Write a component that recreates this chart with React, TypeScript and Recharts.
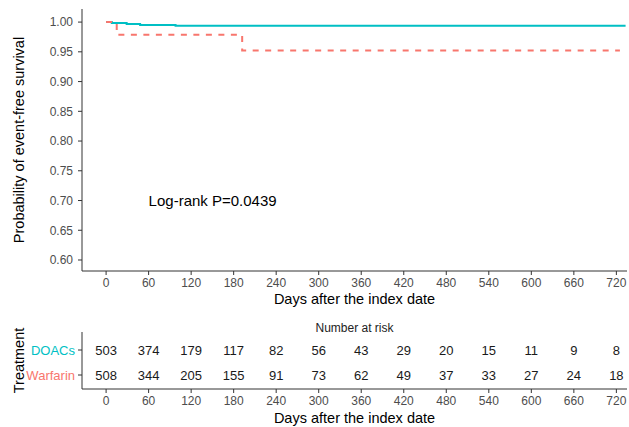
import React from "react";
import {
  LineChart,
  Line,
  XAxis,
  YAxis,
  ReferenceDot,
  Label,
  ScatterChart,
  Scatter,
} from "recharts";

// Kaplan-Meier step data (days, survival)
const doacTimes = [0, 8, 29, 48, 98, 733];
const doacSurv = [1.0, 0.9983, 0.9966, 0.9949, 0.9938, 0.9938];
const warfTimes = [0, 15, 192, 725];
const warfSurv = [1.0, 0.9786, 0.9522, 0.9522];

const dayTicks = [0, 60, 120, 180, 240, 300, 360, 420, 480, 540, 600, 660, 720];
const survTicks = [0.6, 0.65, 0.7, 0.75, 0.8, 0.85, 0.9, 0.95, 1.0];

const groups = ["DOACs", "Warfarin"];
const groupColors = ["#00BFC4", "#F8766D"];
const riskDOACs = [503, 374, 179, 117, 82, 56, 43, 29, 20, 15, 11, 9, 8];
const riskWarfarin = [508, 344, 205, 155, 91, 73, 62, 49, 37, 33, 27, 24, 18];

const pValueText = "Log-rank P=0.0439";
const pValueAt = { t: 60, s: 0.7 };

const doacData = doacTimes.map((t, i) => ({ t, s: doacSurv[i] }));
const warfData = warfTimes.map((t, i) => ({ t, s: warfSurv[i] }));
const riskData = [
  ...dayTicks.map((t, i) => ({ t, row: 2, n: riskDOACs[i] })),
  ...dayTicks.map((t, i) => ({ t, row: 1, n: riskWarfarin[i] })),
];

const FONT = "'Liberation Sans', Arial, sans-serif";
const AXIS = "#333333";
const TICKTXT = "#4D4D4D";
const X_DOMAIN: [number, number] = [-34, 735];

const XTitle = (dy: number) => (props: any) => {
  const vb = props.viewBox;
  return (
    <text
      x={vb.x + vb.width / 2}
      y={vb.y + dy}
      textAnchor="middle"
      dominantBaseline="central"
      fontSize={14.5}
      fill="#000"
      fontFamily={FONT}
    >
      Days after the index date
    </text>
  );
};

const YTitle = (text: string) => (props: any) => {
  const vb = props.viewBox;
  const cx = 18.5;
  const cy = vb.y + vb.height / 2;
  return (
    <text
      x={cx}
      y={cy}
      transform={`rotate(-90, ${cx}, ${cy})`}
      textAnchor="middle"
      dominantBaseline="central"
      fontSize={14.5}
      fill="#000"
      fontFamily={FONT}
    >
      {text}
    </text>
  );
};

const GroupTick = (props: any) => {
  const idx = props.payload.value === 2 ? 0 : 1;
  return (
    <text
      x={props.x}
      y={props.y}
      textAnchor="end"
      dominantBaseline="central"
      fontSize={13}
      fill={groupColors[idx]}
      fontFamily={FONT}
    >
      {groups[idx]}
    </text>
  );
};

const RiskText = (props: any) => (
  <text
    x={props.cx}
    y={props.cy}
    textAnchor="middle"
    dominantBaseline="central"
    fontSize={13}
    fill="#1a1a1a"
    fontFamily={FONT}
  >
    {props.payload.n}
  </text>
);

export default function App() {
  return (
    <div
      style={{
        position: "absolute",
        left: 0,
        top: 0,
        width: 629,
        height: 427,
        background: "#fff",
        fontFamily: FONT,
      }}
    >
      <div style={{ position: "absolute", left: 0, top: 0 }}>
        <LineChart
          width={629}
          height={310}
          margin={{ top: 9, right: 2, left: 0, bottom: 3 }}
        >
          <XAxis
            type="number"
            dataKey="t"
            domain={X_DOMAIN}
            allowDataOverflow
            ticks={dayTicks}
            tickSize={4}
            tickMargin={3}
            height={36}
            stroke={AXIS}
            tick={{ fill: TICKTXT, fontSize: 12, fontFamily: FONT }}
            tickLine={{ stroke: AXIS }}
            axisLine={{ stroke: AXIS }}
            label={XTitle(28)}
          />
          <YAxis
            type="number"
            dataKey="s"
            domain={[0.5815, 1.022]}
            allowDataOverflow
            ticks={survTicks}
            tickFormatter={(v: number) => v.toFixed(2)}
            tickSize={4}
            tickMargin={5}
            width={82}
            stroke={AXIS}
            tick={{ fill: TICKTXT, fontSize: 12, fontFamily: FONT }}
            tickLine={{ stroke: AXIS }}
            axisLine={{ stroke: AXIS }}
            label={YTitle("Probability of event-free survival")}
          />
          <Line
            data={doacData}
            dataKey="s"
            type="stepAfter"
            stroke={groupColors[0]}
            strokeWidth={2}
            dot={false}
            activeDot={false}
            isAnimationActive={false}
          />
          <Line
            data={warfData}
            dataKey="s"
            type="stepAfter"
            stroke={groupColors[1]}
            strokeWidth={2}
            strokeDasharray="6 6.5"
            dot={false}
            activeDot={false}
            isAnimationActive={false}
          />
          <ReferenceDot
            x={pValueAt.t}
            y={pValueAt.s}
            r={0}
            fill="none"
            stroke="none"
          >
            <Label
              value={pValueText}
              position="right"
              offset={0}
              fontSize={15}
              fill="#000"
              fontFamily={FONT}
            />
          </ReferenceDot>
        </LineChart>
      </div>

      <div
        style={{
          position: "absolute",
          left: 82,
          width: 545,
          top: 321,
          height: 14,
          lineHeight: "14px",
          textAlign: "center",
          fontSize: 12,
          color: "#222",
          fontFamily: FONT,
        }}
      >
        Number at risk
      </div>

      <div style={{ position: "absolute", left: 0, top: 310 }}>
        <ScatterChart
          width={629}
          height={117}
          margin={{ top: 22, right: 2, left: 0, bottom: 3 }}
        >
          <XAxis
            type="number"
            dataKey="t"
            domain={X_DOMAIN}
            allowDataOverflow
            ticks={dayTicks}
            tickSize={4}
            tickMargin={3}
            height={35}
            stroke={AXIS}
            tick={{ fill: TICKTXT, fontSize: 12, fontFamily: FONT }}
            tickLine={{ stroke: AXIS }}
            axisLine={{ stroke: AXIS }}
            label={XTitle(29)}
          />
          <YAxis
            type="number"
            dataKey="row"
            domain={[0.44, 2.72]}
            allowDataOverflow
            ticks={[1, 2]}
            tickSize={4}
            tickMargin={3}
            width={82}
            stroke={AXIS}
            tick={<GroupTick />}
            tickLine={{ stroke: AXIS }}
            axisLine={{ stroke: AXIS }}
            label={YTitle("Treatment")}
          />
          <Scatter
            data={riskData}
            shape={<RiskText />}
            isAnimationActive={false}
          />
        </ScatterChart>
      </div>
    </div>
  );
}
